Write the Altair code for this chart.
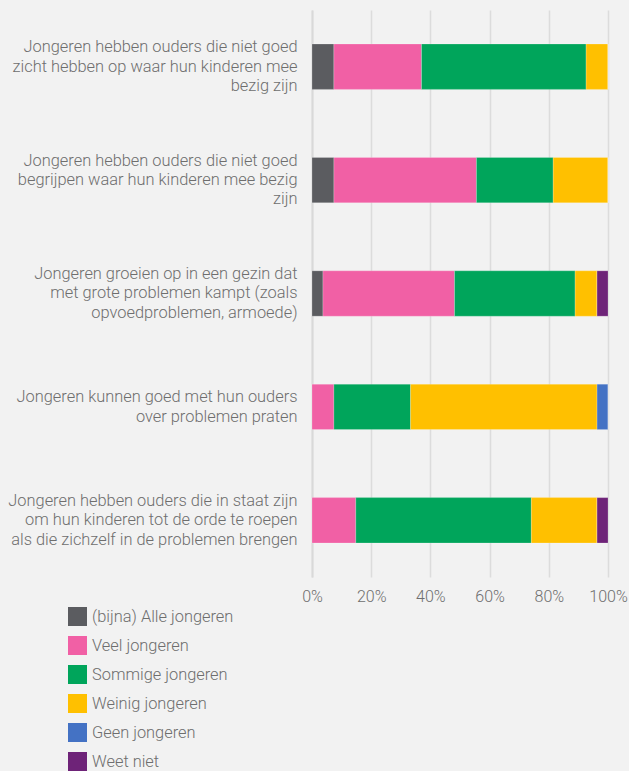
import altair as alt
import pandas as pd

statements = [
    "Jongeren hebben ouders die niet goed|zicht hebben op waar hun kinderen mee|bezig zijn",
    "Jongeren hebben ouders die niet goed|begrijpen waar hun kinderen mee bezig|zijn",
    "Jongeren groeien op in een gezin dat|met grote problemen kampt (zoals|opvoedproblemen, armoede)",
    "Jongeren kunnen goed met hun ouders|over problemen praten",
    "Jongeren hebben ouders die in staat zijn|om hun kinderen tot de orde te roepen|als die zichzelf in de problemen brengen",
]
categories = ["(bijna) Alle jongeren", "Veel jongeren", "Sommige jongeren",
              "Weinig jongeren", "Geen jongeren", "Weet niet"]
colors = ["#5b5c60", "#f160a5", "#00a55b", "#ffc000", "#4472c4", "#6e2378"]

alle = [7.4, 7.4, 3.7, 0.0, 0.0]
veel = [29.6, 48.1, 44.4, 7.4, 14.8]
sommige = [55.6, 25.9, 40.7, 25.9, 59.3]
weinig = [7.4, 18.5, 7.4, 63.0, 22.2]
geen = [0.0, 0.0, 0.0, 3.7, 0.0]
weet_niet = [0.0, 0.0, 3.7, 0.0, 3.7]

series = [alle, veel, sommige, weinig, geen, weet_niet]
rows = []
for ci, (cat, vals) in enumerate(zip(categories, series)):
    for s, v in zip(statements, vals):
        rows.append({"stelling": s, "categorie": cat, "waarde": v, "volgorde": ci})
df = pd.DataFrame(rows)

font = "Roboto"
textcol = "#6e6e6e"
lh = 19.3

chart = alt.Chart(df).mark_bar(stroke="white", strokeWidth=0.5, strokeOpacity=0.4).encode(
    y=alt.Y("stelling:N", sort=statements, title=None,
            scale=alt.Scale(paddingInner=0.6, paddingOuter=0.3),
            axis=alt.Axis(labelExpr="split(datum.label, '|')", labelLimit=400,
                          labelFont=font, labelFontSize=16.4, labelFontWeight=300,
                          labelColor=textcol, labelLineHeight=lh, labelPadding=15,
                          labelOffset=alt.condition("length(split(datum.value, '|')) == 2",
                                                    alt.value(-lh / 2), alt.value(-lh)),
                          ticks=False, domain=True, domainColor="#d9d9d9",
                          domainWidth=2, grid=False)),
    x=alt.X("waarde:Q", stack="normalize", title=None,
            scale=alt.Scale(domain=[0, 1], nice=False),
            axis=alt.Axis(format=".0%", values=[0, 0.2, 0.4, 0.6, 0.8, 1.0],
                          labelFont=font, labelFontSize=16, labelFontWeight=300,
                          labelColor=textcol, labelPadding=11, ticks=False,
                          domain=False, grid=True, gridColor="#dcdcdc",
                          gridWidth=1.5, labelFlush=False)),
    color=alt.Color("categorie:N", title=None,
                    scale=alt.Scale(domain=categories, range=colors),
                    legend=alt.Legend(orient="none", legendX=-244, legendY=597,
                                      direction="vertical", symbolType="square",
                                      symbolSize=361, symbolStrokeWidth=0,
                                      symbolOpacity=1, rowPadding=10,
                                      labelFont=font, labelFontSize=16.4,
                                      labelFontWeight=300, labelColor=textcol,
                                      labelOffset=5, labelLimit=300)),
    order=alt.Order("volgorde:Q", sort="ascending"),
).properties(
    width=296, height=567, background="#f2f2f2",
    padding={"left": 312, "top": 10, "right": 21, "bottom": 194},
    autosize=alt.AutoSizeParams(type="none"),
).configure_view(stroke=None)

chart.save("out.html", embed_options={"renderer": "svg", "actions": False})
